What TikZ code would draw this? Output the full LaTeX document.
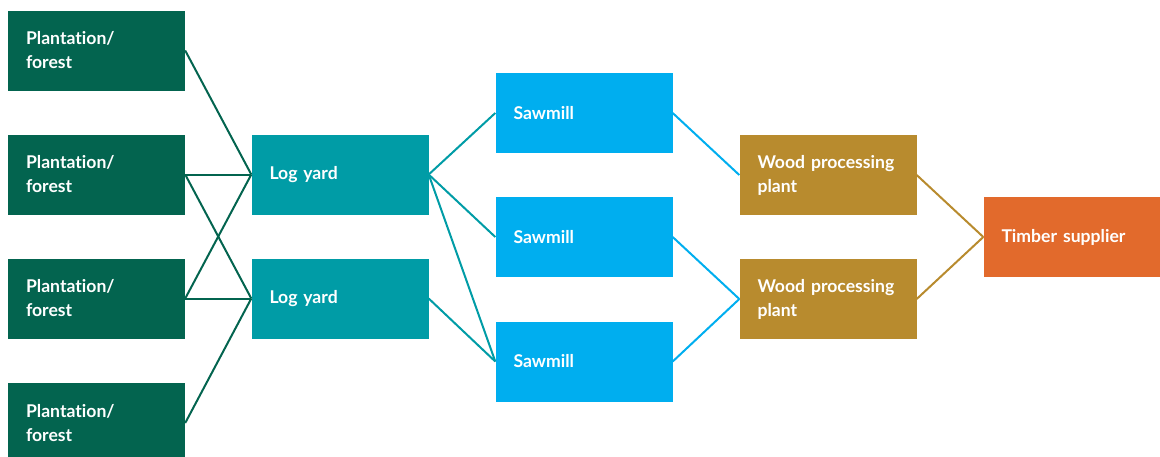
\documentclass[tikz,border=0pt]{standalone}
\usepackage{fontspec}
\setmainfont{Lato}[Ligatures={NoCommon,NoRare,NoDiscretionary}]
\usetikzlibrary{positioning}

\definecolor{forestgreen}{HTML}{03644F}
\definecolor{yardteal}{HTML}{009CA6}
\definecolor{millblue}{HTML}{00AEEF}
\definecolor{plantgold}{HTML}{B88B2E}
\definecolor{supplyorange}{HTML}{E26A2C}

\begin{document}
\begin{tikzpicture}[
    x=1pt, y=-1pt,
    stage/.style={rectangle, minimum width=177pt, minimum height=80pt, text width=141pt,
        inner xsep=18pt, align=left, text=white, font=\fontsize{17.6}{24}\selectfont\bfseries},
    link/.style={draw, line width=2pt}
]
\useasboundingbox (0,0) rectangle (1160,456);
\clip (0,0) rectangle (1160,456);

% Plantations
\node[stage, fill=forestgreen] (P1) at (96.5, 50.5) {Plantation/\\forest};
\node[stage, fill=forestgreen] (P2) at (96.5, 174.5) {Plantation/\\forest};
\node[stage, fill=forestgreen] (P3) at (96.5, 298.5) {Plantation/\\forest};
\node[stage, fill=forestgreen] (P4) at (96.5, 423) {Plantation/\\forest};

% Log yards
\node[stage, fill=yardteal] (L1) at (340, 174.5) {Log yard};
\node[stage, fill=yardteal] (L2) at (340, 298.5) {Log yard};

% Sawmills
\node[stage, fill=millblue] (S1) at (584, 113) {Sawmill};
\node[stage, fill=millblue] (S2) at (584, 237) {Sawmill};
\node[stage, fill=millblue] (S3) at (584, 361.5) {Sawmill};

% Wood processing plants
\node[stage, fill=plantgold] (W1) at (828, 175) {Wood processing\\plant};
\node[stage, fill=plantgold] (W2) at (828, 299) {Wood processing\\plant};

% Timber supplier
\node[stage, fill=supplyorange] (T) at (1072, 237) {Timber supplier};

% Connections
\draw[link, forestgreen] (P1.east) -- (L1.west);
\draw[link, forestgreen] (P2.east) -- (L1.west);
\draw[link, forestgreen] (P2.east) -- (L2.west);
\draw[link, forestgreen] (P3.east) -- (L1.west);
\draw[link, forestgreen] (P3.east) -- (L2.west);
\draw[link, forestgreen] (P4.east) -- (L2.west);

\draw[link, yardteal] (L1.east) -- (S1.west);
\draw[link, yardteal] (L1.east) -- (S2.west);
\draw[link, yardteal] (L1.east) -- (S3.west);
\draw[link, yardteal] (L2.east) -- (S3.west);

\draw[link, millblue] (S1.east) -- (W1.west);
\draw[link, millblue] (S2.east) -- (W2.west);
\draw[link, millblue] (S3.east) -- (W2.west);

\draw[link, plantgold] (W1.east) -- (T.west);
\draw[link, plantgold] (W2.east) -- (T.west);

\end{tikzpicture}
\end{document}
